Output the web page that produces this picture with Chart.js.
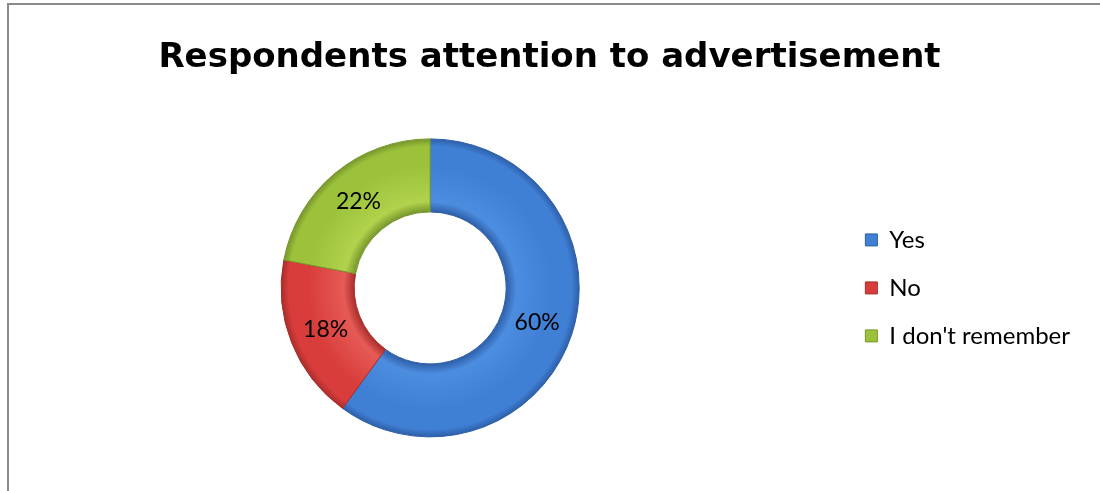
<!DOCTYPE html>
<html>
<head>
<meta charset="utf-8">
<script src="https://cdn.jsdelivr.net/npm/chart.js@4.4.1/dist/chart.umd.min.js"></script>
<style>
    html, body { margin: 0; padding: 0; background: #fff; overflow: hidden; }
    #frame {
        position: absolute; left: 7px; top: 3px; width: 1200px; height: 600px;
        border-left: 2px solid #8a8a8a; border-top: 2px solid #8a8a8a;
        pointer-events: none;
    }
    #wrap { position: absolute; left: 0; top: 0; width: 1100px; height: 491px; }
</style>
</head>
<body>
<div id="wrap"><canvas id="pieChart"></canvas></div>
<div id="frame"></div>
<script>
const labels = ['Yes', 'No', "I don't remember"];
const values = [60, 18, 22];
const baseColors = ['#3f7fd4', '#d83d3b', '#9cc23b'];
const lightColors = ['#4d8de0', '#e65a55', '#b0d24c'];
const darkColors = ['#2e5fa8', '#a82e2c', '#77962c'];

const RING_OUTER = 149;
const RING_CUTOUT = '51%';

Chart.defaults.font.family = 'Lato, "Open Sans", sans-serif';

// sombreado del anillo: bordes algo más oscuros, centro más claro
function ringFill(context) {
    const i = context.dataIndex;
    const chart = context.chart;
    const area = chart.chartArea;
    if (!area || i === undefined) return baseColors[i] || baseColors[0];
    const cx = (area.left + area.right) / 2;
    const cy = (area.top + area.bottom) / 2;
    const g = chart.ctx.createRadialGradient(cx, cy, 0, cx, cy, RING_OUTER);
    const f = parseFloat(RING_CUTOUT) / 100;
    g.addColorStop(0, darkColors[i]);
    g.addColorStop(f, darkColors[i]);
    g.addColorStop(f + 0.07, lightColors[i]);
    g.addColorStop(0.82, baseColors[i]);
    g.addColorStop(0.95, baseColors[i]);
    g.addColorStop(1, darkColors[i]);
    return g;
}

// etiquetas de porcentaje dentro de cada sector
const percentLabels = {
    id: 'percentLabels',
    afterDatasetsDraw(chart) {
        const ctx = chart.ctx;
        const meta = chart.getDatasetMeta(0);
        const total = values.reduce((a, b) => a + b, 0);
        ctx.save();
        ctx.font = '23px Lato, "Open Sans", sans-serif';
        ctx.fillStyle = '#000';
        ctx.textAlign = 'center';
        ctx.textBaseline = 'middle';
        meta.data.forEach((arc, i) => {
            const p = arc.tooltipPosition();
            ctx.fillText(Math.round(values[i] / total * 100) + '%', p.x, p.y);
        });
        ctx.restore();
    }
};

const ctx = document.getElementById('pieChart').getContext('2d');
new Chart(ctx, {
    type: 'doughnut',
    data: {
        labels: labels,
        datasets: [{
            data: values,
            backgroundColor: ringFill,
            borderColor: darkColors,
            borderWidth: 1,
            radius: RING_OUTER,
            cutout: RING_CUTOUT
        }]
    },
    options: {
        responsive: true,
        maintainAspectRatio: false,
        animation: false,
        layout: {
            padding: { left: 19, right: 20, top: 0, bottom: 12 }
        },
        plugins: {
            title: {
                display: true,
                text: 'Respondents attention to advertisement',
                color: '#000',
                font: { family: '"DejaVu Sans", "Open Sans", sans-serif', size: 34, weight: 'bold' },
                padding: { top: 38, bottom: 18 }
            },
            legend: {
                position: 'right',
                fullSize: false,
                labels: {
                    color: '#000',
                    font: { size: 24 },
                    boxWidth: 12,
                    boxHeight: 12,
                    padding: 24,
                    generateLabels(chart) {
                        const items = Chart.overrides.doughnut.plugins.legend.labels.generateLabels(chart);
                        items.forEach((item, i) => {
                            item.fillStyle = baseColors[i];
                            item.strokeStyle = darkColors[i];
                            item.lineWidth = 1;
                        });
                        return items;
                    }
                }
            },
            tooltip: { enabled: false }
        }
    },
    plugins: [percentLabels]
});
</script>
</body>
</html>
